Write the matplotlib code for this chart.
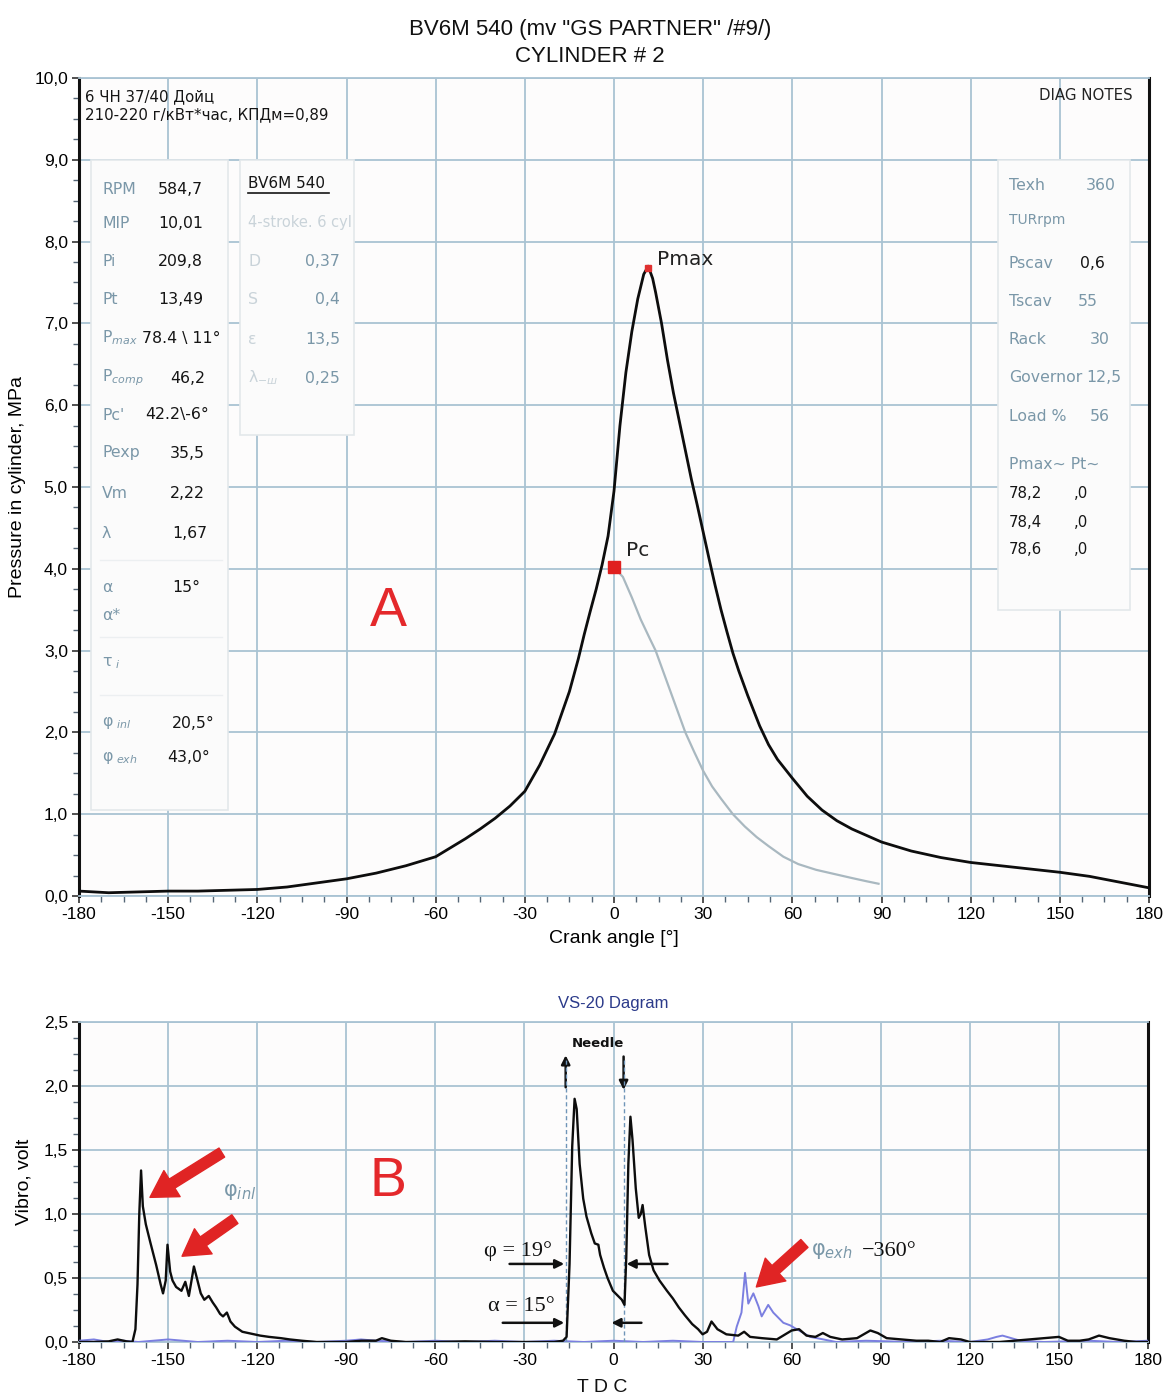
import matplotlib
matplotlib.use("Agg")
import matplotlib.pyplot as plt
from matplotlib.patches import Rectangle
from matplotlib.ticker import MultipleLocator
from matplotlib.lines import Line2D

# ---------------- data ----------------
crank_angle = [-180, -175, -170, -160, -150, -140, -130, -120, -110, -100, -90, -80, -70, -60,
               -50, -45, -40, -35, -30, -25, -20, -15, -12, -10, -8, -6, -4, -2, 0, 2, 4, 6, 8,
               10, 11.5, 13, 14, 16, 18, 20, 22, 24, 26, 28, 30, 32, 34, 36, 38, 40, 42, 45, 49,
               52, 55, 60, 65, 70, 75, 80, 90, 100, 110, 120, 130, 140, 150, 160, 170, 180]
cyl_pressure = [0.06, 0.05, 0.04, 0.05, 0.06, 0.06, 0.07, 0.08, 0.11, 0.16, 0.21, 0.28, 0.37, 0.48,
                0.70, 0.82, 0.95, 1.10, 1.28, 1.60, 1.98, 2.50, 2.90, 3.20, 3.48, 3.75, 4.05, 4.40,
                4.95, 5.75, 6.40, 6.90, 7.30, 7.60, 7.70, 7.55, 7.38, 7.00, 6.55, 6.15, 5.80, 5.45,
                5.10, 4.78, 4.45, 4.12, 3.80, 3.50, 3.23, 2.97, 2.75, 2.45, 2.08, 1.85, 1.67, 1.44,
                1.22, 1.05, 0.92, 0.82, 0.66, 0.55, 0.47, 0.41, 0.37, 0.33, 0.29, 0.24, 0.17, 0.10]

comp_angle = [0, 3, 6, 9, 12, 14, 17, 20, 24, 27, 30, 33, 36, 40, 44, 48, 52, 57, 62, 68, 74, 80,
              85, 89]
comp_pressure = [4.02, 3.90, 3.65, 3.38, 3.15, 3.00, 2.70, 2.40, 2.00, 1.76, 1.53, 1.34, 1.19,
                 1.00, 0.85, 0.72, 0.61, 0.48, 0.39, 0.32, 0.27, 0.22, 0.18, 0.15]

pmax_point = (11.5, 7.68)
pc_point = (0.0, 4.02)

vib_angle = [-180, -175, -170, -167, -164, -162, -161, -160.3, -159.7, -159.1, -158.5, -157.5,
             -156, -154, -152.5, -151.7, -150.8, -150.2, -149.3, -148.5, -147.3, -145.5, -144.2,
             -143, -141.3, -140, -139, -137.8, -136.3, -135, -133.8, -132.5, -131.5, -130.2, -129,
             -127.5, -125, -122, -119, -116, -112, -109, -105, -100, -90, -85, -80, -78, -75, -70,
             -60, -50, -40, -30, -20, -17, -15.8, -14.8, -13.9, -13.1, -12.4, -11.4, -10.2, -9.1,
             -7.5, -6.3, -5.1, -4.5, -3.2, -2.0, -0.2, 1.5, 2.8, 3.7, 4.3, 5.0, 5.7, 6.4, 7.5, 8.5,
             9.2, 9.8, 10.7, 12.0, 13.5, 15.5, 18.0, 20.0, 22.0, 24.0, 26.5, 28.5, 30, 31.5, 33,
             35, 38, 42, 44, 46, 50, 55, 60, 62.5, 65, 68, 70.5, 73, 77, 82, 86.5, 89, 92, 97, 102,
             106, 110, 113, 117, 120, 125, 130, 135, 140, 145, 150, 153, 157, 160, 163.5, 167, 172,
             176, 180]
vib_needle = [0.0, 0.0, 0.005, 0.02, 0.005, 0.0, 0.1, 0.45, 1.0, 1.34, 1.06, 0.92, 0.78, 0.6, 0.45,
              0.38, 0.48, 0.76, 0.55, 0.48, 0.43, 0.40, 0.47, 0.36, 0.59, 0.47, 0.38, 0.33, 0.36,
              0.31, 0.27, 0.22, 0.20, 0.23, 0.16, 0.12, 0.08, 0.065, 0.05, 0.04, 0.03, 0.02, 0.01,
              0.0, 0.0, 0.01, 0.01, 0.03, 0.01, 0.0, 0.0, 0.005, 0.0, 0.0, 0.0, 0.01, 0.04, 0.61,
              1.53, 1.90, 1.82, 1.39, 1.12, 0.98, 0.85, 0.77, 0.76, 0.68, 0.58, 0.50, 0.40, 0.36,
              0.33, 0.29, 0.66, 1.39, 1.76, 1.58, 1.20, 0.97, 1.00, 1.07, 0.90, 0.68, 0.56, 0.48,
              0.40, 0.34, 0.27, 0.21, 0.14, 0.10, 0.06, 0.08, 0.16, 0.10, 0.06, 0.05, 0.08, 0.04,
              0.03, 0.02, 0.09, 0.10, 0.05, 0.04, 0.07, 0.04, 0.02, 0.03, 0.09, 0.07, 0.03, 0.02,
              0.01, 0.01, 0.0, 0.03, 0.02, 0.0, 0.0, 0.0, 0.01, 0.02, 0.03, 0.04, 0.01, 0.01, 0.02,
              0.05, 0.03, 0.01, 0.0, 0.0]

exh_angle = [-180, -175, -170, -165, -160, -155, -150, -145, -140, -130, -120, -110, -100, -90,
             -85, -80, -70, -60, -50, -40, -30, -20, -10, 0, 10, 20, 30, 38, 40.3, 41.5, 43.1, 44.3,
             45.4, 47.1, 48.8, 49.9, 52.1, 53.8, 55.5, 57.2, 59.5, 61.7, 64, 66.2, 70.7, 75, 85,
             100, 110, 120, 126, 129, 131, 134, 137, 145, 160, 170, 180]
vib_exhaust = [0.01, 0.02, 0.0, 0.01, 0.0, 0.01, 0.02, 0.01, 0.0, 0.01, 0.0, 0.01, 0.0, 0.01,
               0.02, 0.01, 0.0, 0.01, 0.0, 0.01, 0.0, 0.01, 0.0, 0.01, 0.0, 0.01, 0.0, 0.0, 0.0,
               0.12, 0.23, 0.54, 0.30, 0.38, 0.28, 0.20, 0.29, 0.23, 0.19, 0.15, 0.13, 0.10, 0.07,
               0.04, 0.02, 0.0, 0.01, 0.0, 0.01, 0.0, 0.02, 0.04, 0.05, 0.03, 0.01, 0.0, 0.01, 0.0,
               0.01]

x_ticks = list(range(-180, 181, 30))
top_yticks = [0, 1, 2, 3, 4, 5, 6, 7, 8, 9, 10]
top_ylabels = ["0,0", "1,0", "2,0", "3,0", "4,0", "5,0", "6,0", "7,0", "8,0", "9,0", "10,0"]
bot_yticks = [0, 0.5, 1.0, 1.5, 2.0, 2.5]
bot_ylabels = ["0,0", "0,5", "1,0", "1,5", "2,0", "2,5"]

left_labels = ["RPM", "MIP", "Pi", "Pt", r"P$_{max}$", r"P$_{comp}$", "Pc'", "Pexp", "Vm", "λ",
               "α", "α*", r"τ$_{\ i}$", r"φ$_{\ inl}$", r"φ$_{\ exh}$"]
left_values = ["584,7", "10,01", "209,8", "13,49", "78.4 \\ 11°", "46,2", "42.2\\-6°", "35,5",
               "2,22", "1,67", "15°", "", "", "20,5°", "43,0°"]
mid_labels = ["D", "S", "ε", r"λ$_{-ш}$"]
mid_values = ["0,37", "0,4", "13,5", "0,25"]
right_labels = ["Texh", "TURrpm", "Pscav", "Tscav", "Rack", "Governor", "Load %"]
right_values = ["360", "", "0,6", "55", "30", "12,5", "56"]
pt_rows = [("78,2", ",0"), ("78,4", ",0"), ("78,6", ",0")]

# ---------------- layout / style ----------------
W, H = 1171, 1394
def F(px, py):
    return (px / W, 1 - py / H)

GRID = "#a9c3d3"
LBL = "#7a97a8"
LIGHT = "#c9d3d9"
SANS = ["Liberation Sans", "DejaVu Sans"]
SERIF = ["Liberation Serif", "DejaVu Serif"]
BOX = ["DejaVu Sans"]

plt.rcParams["font.family"] = ["DejaVu Sans"]
fig = plt.figure(figsize=(W / 100, H / 100), dpi=100, facecolor="white")

ax = fig.add_axes([79 / W, 1 - 896 / H, (1149 - 79) / W, (896 - 78) / H])
ax2 = fig.add_axes([79 / W, 1 - 1342 / H, (1148 - 79) / W, (1342 - 1022) / H])

for a in (ax, ax2):
    a.set_facecolor("#fdfcfc")
    a.set_xlim(-180, 180)
    a.set_xticks(x_ticks)
    a.set_xticklabels([str(t) for t in x_ticks], family=SANS, fontsize=12.5)
    a.xaxis.set_minor_locator(MultipleLocator(7.5))
    a.grid(True, which="major", color=GRID, lw=1.3)
    for s in ("left", "right"):
        a.spines[s].set_color("#111111")
        a.spines[s].set_linewidth(2.2)
    for s in ("top", "bottom"):
        a.spines[s].set_color(GRID)
        a.spines[s].set_linewidth(1.3)
    a.tick_params(which="major", direction="out", length=5, width=1.2, color="#333333", pad=3)
    a.tick_params(which="minor", direction="out", length=4, width=1.0, color="#556677")

ax.set_ylim(0, 10)
ax.set_yticks(top_yticks)
ax.set_yticklabels(top_ylabels, family=SANS, fontsize=12.5)
ax.yaxis.set_minor_locator(MultipleLocator(0.25))
ax2.set_ylim(0, 2.5)
ax2.set_yticks(bot_yticks)
ax2.set_yticklabels(bot_ylabels, family=SANS, fontsize=12.5)
ax2.yaxis.set_minor_locator(MultipleLocator(0.125))

# ---------------- top chart ----------------
ax.plot(comp_angle, comp_pressure, color="#a9b8c0", lw=1.6, zorder=3)
ax.plot(crank_angle, cyl_pressure, color="#0d0d0d", lw=2.0, zorder=4, solid_joinstyle="round")
ax.plot(*pmax_point, marker="s", color="#e03030", ms=5, zorder=5)
ax.plot(*pc_point, marker="s", color="#e02020", ms=9, zorder=5)
ax.text(pmax_point[0] + 3, pmax_point[1] + 0.1, "Pmax", fontsize=14.5, color="#222222",
        va="center", ha="left", zorder=6)
ax.text(pc_point[0] + 4, pc_point[1] + 0.2, "Pc", fontsize=14.5, color="#222222",
        va="center", ha="left", zorder=6)
ax.text(*F(388, 612), "A", transform=fig.transFigure, family=SANS, fontsize=40,
        color="#e4282b", ha="center", va="center")

ax.set_xlabel("Crank angle [°]", family=SANS, fontsize=14, labelpad=6)
ax.set_ylabel("Pressure in cylinder, MPa", family=SANS, fontsize=14, labelpad=6)

fig.text(*F(590, 30), 'BV6M 540 (mv "GS PARTNER" /#9/)', family=SANS, fontsize=16,
         ha="center", va="center", color="#111111")
fig.text(*F(590, 57), "CYLINDER # 2", family=SANS, fontsize=16, ha="center", va="center",
         color="#111111")

# info boxes
def box(a, x0, y0, x1, y1):
    (fx0, fy0), (fx1, fy1) = F(x0, y1), F(x1, y0)
    a.add_patch(Rectangle((fx0, fy0), fx1 - fx0, fy1 - fy0, transform=fig.transFigure,
                          facecolor="#fbfbfb", edgecolor="#e3e8eb", lw=1.2, zorder=2,
                          clip_on=False))

box(ax, 91, 160, 228, 810)
box(ax, 240, 160, 354, 435)
box(ax, 998, 160, 1130, 610)
for py in (560, 637, 695):
    ax.add_line(Line2D([F(100, py)[0], F(222, py)[0]], [F(100, py)[1]] * 2,
                       transform=fig.transFigure, color="#eceff1", lw=1, zorder=2.5))

def t(px, py, s, color="#151515", size=11.3, ha="left", **kw):
    ax.text(*F(px, py), s, transform=fig.transFigure, fontsize=size, color=color, ha=ha,
            va="center", family=BOX, zorder=6, **kw)

t(85, 97, "6 ЧН 37/40 Дойц", size=10.8)
t(85, 115, "210-220 г/кВт*час, КПДм=0,89", size=10.8)
t(1133, 95, "DIAG NOTES", size=10.8, ha="right", color="#222222")

left_rows = [189, 223, 261, 300, 338, 378, 415, 453, 493, 533, 587, 615, 663, 723, 758]
left_vx = [158, 158, 158, 158, 142, 170, 145, 170, 170, 172, 172, 172, 172, 172, 167]
for lab, val, py, vx in zip(left_labels, left_values, left_rows, left_vx):
    t(102, py, lab, color=LBL, size=11.3)
    if val:
        t(vx, py, val, size=11.3)

t(248, 183, "BV6M 540", size=11.0)
ax.add_line(Line2D([F(248, 193)[0], F(329, 193)[0]], [F(248, 193)[1]] * 2,
                   transform=fig.transFigure, color="#151515", lw=1.2, zorder=6))
t(248, 222, "4-stroke. 6 cyl", color=LIGHT, size=10.5)
for lab, val, py in zip(mid_labels, mid_values, [261, 300, 339, 378]):
    t(248, py, lab, color=LIGHT, size=11.3)
    t(340, py, val, color=LBL, size=11.3, ha="right")

right_rows = [185, 220, 263, 301, 340, 377, 417]
right_vx = [1086, 0, 1080, 1078, 1090, 1086, 1090]
for lab, val, py, vx in zip(right_labels, right_values, right_rows, right_vx):
    t(1009, py, lab, color=LBL, size=10 if lab == "TURrpm" else 11.3)
    if val:
        t(vx, py, val, color="#151515" if lab == "Pscav" else LBL, size=11.3)
t(1009, 465, "Pmax~ Pt~", color=LBL, size=11.3)
for (a_, b_), py in zip(pt_rows, [493, 522, 550]):
    t(1009, py, a_, size=10.8)
    t(1074, py, b_, size=10.8)

# ---------------- bottom chart ----------------
ax2.plot(exh_angle, vib_exhaust, color="#7b7fe0", lw=1.4, zorder=3)
ax2.plot(vib_angle, vib_needle, color="#0d0d0d", lw=1.7, zorder=4)
ax2.set_title("VS-20 Dagram", family=SANS, fontsize=12, color="#2b3a8a", pad=10)
ax2.set_ylabel("Vibro, volt", family=SANS, fontsize=14, labelpad=8)
fig.text(*F(602, 1388), "T D C", family=SANS, fontsize=14, ha="center", va="center",
         color="#111111")
ax2.text(*F(388, 1182), "B", transform=fig.transFigure, family=SANS, fontsize=40,
         color="#e4282b", ha="center", va="center")

for xv in (-15.9, 3.7):
    ax2.plot([xv, xv], [0, 2.2], color="#6f95b8", lw=1.0, ls=(0, (3, 2)), zorder=3.5)

blk = dict(arrowstyle="-|>", color="#111111", lw=1.8, mutation_scale=13, shrinkA=0, shrinkB=0)
ax2.annotate("", xy=(-16.1, 2.24), xytext=(-16.1, 1.99), arrowprops=blk)
ax2.annotate("", xy=(3.4, 1.97), xytext=(3.4, 2.23), arrowprops=blk)
ax2.text(-5.4, 2.33, "Needle", fontsize=9.5, fontweight="bold", ha="center", va="center",
         color="#111111")
ax2.annotate("", xy=(-16.6, 0.61), xytext=(-35.0, 0.61), arrowprops=blk)
ax2.annotate("", xy=(4.4, 0.61), xytext=(18.2, 0.61), arrowprops=blk)
ax2.annotate("", xy=(-16.6, 0.15), xytext=(-37.3, 0.15), arrowprops=blk)
ax2.annotate("", xy=(-0.7, 0.15), xytext=(9.4, 0.15), arrowprops=blk)
ax2.text(-32.3, 0.71, "φ = 19°", family=SERIF, fontsize=16, ha="center", va="center",
         color="#111111")
ax2.text(-31.0, 0.28, "α = 15°", family=SERIF, fontsize=16, ha="center", va="center",
         color="#111111")

red = dict(arrowstyle="simple,head_width=1.3,head_length=1.1,tail_width=0.45",
           color="#e02424", mutation_scale=17, shrinkA=0, shrinkB=0)
ax2.annotate("", xy=(-156.1, 1.13), xytext=(-131.9, 1.48), arrowprops=red)
ax2.annotate("", xy=(-145.3, 0.67), xytext=(-127.5, 0.96), arrowprops=red)
ax2.annotate("", xy=(48.1, 0.43), xytext=(64.3, 0.77), arrowprops=red)
ax2.text(-131.5, 1.17, r"φ$_{inl}$", fontsize=15, color=LBL, ha="left", va="center")
ax2.text(66.6, 0.71, r"φ$_{exh}$", fontsize=15, color=LBL, ha="left", va="center")
ax2.text(83.5, 0.71, "−360°", family=SERIF, fontsize=16, color="#111111", ha="left",
         va="center")

fig.savefig("out.png", dpi=100, facecolor="white")
